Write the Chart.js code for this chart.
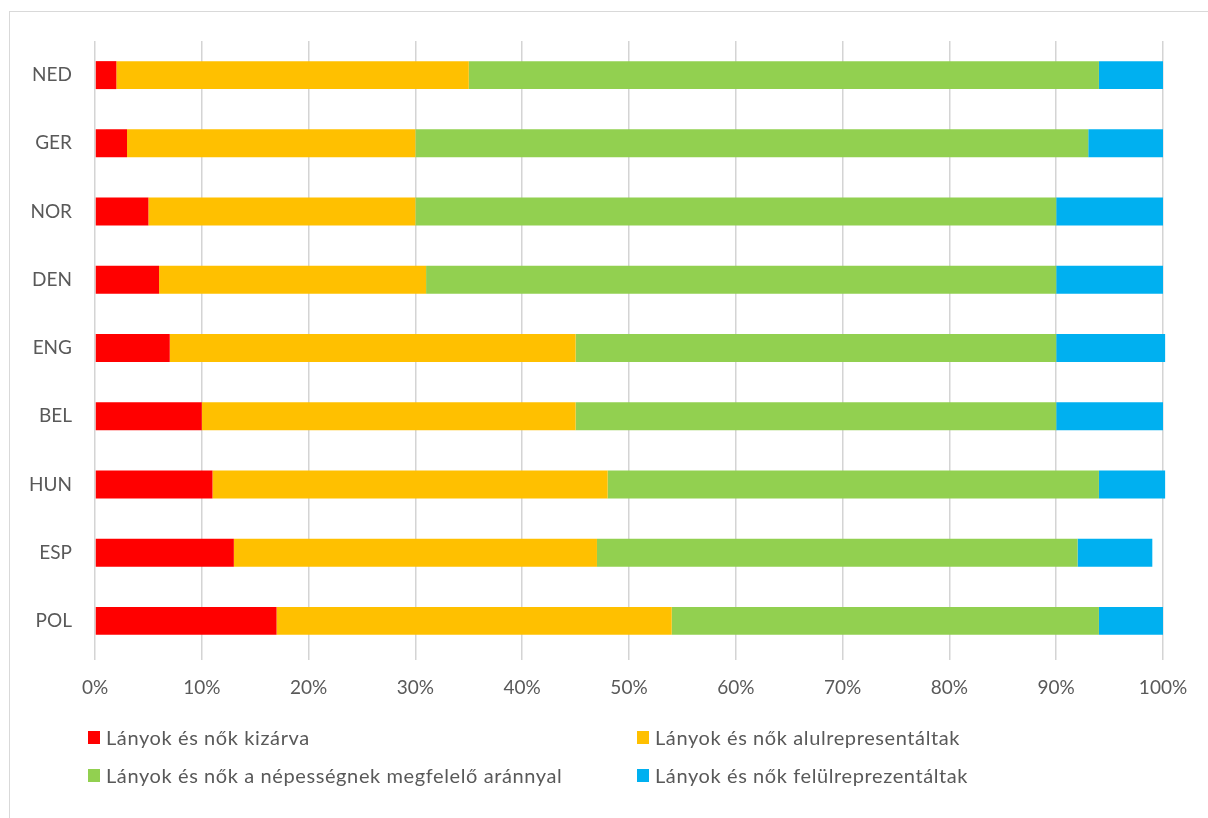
<!DOCTYPE html>
<html lang="hu">
<head>
<meta charset="utf-8">
<script src="https://cdn.jsdelivr.net/npm/chart.js@4.4.1/dist/chart.umd.min.js"></script>
<style>
  html, body { margin: 0; padding: 0; background: #fff; overflow: hidden; }
  #wrap { position: relative; width: 1208px; height: 818px; }
  #frame { position: absolute; left: 9px; top: 11px; width: 1400px; height: 1000px;
           border: 1px solid #d9d9d9; box-sizing: border-box; }
  #chart { position: absolute; left: 0; top: 0; }
  #legend { position: absolute; left: 88px; top: 726px; display: grid;
            grid-template-columns: 549px auto; row-gap: 16px;
            font-family: Lato, 'Open Sans', sans-serif; font-size: 20px;
            letter-spacing: 0.6px; color: #595959; }
  .item { display: flex; align-items: center; height: 22px; white-space: nowrap; }
  .box { width: 12px; height: 13px; margin-right: 6px; }
</style>
</head>
<body>
<div id="wrap">
  <div id="frame"></div>
  <canvas id="chart" width="1208" height="818"></canvas>
  <div id="legend"></div>
</div>
<script>
// Országok (felülről lefelé)
const categories = ['NED', 'GER', 'NOR', 'DEN', 'ENG', 'BEL', 'HUN', 'ESP', 'POL'];

// Sorozatok, százalékban
const excluded     = [2, 3, 5, 6, 7, 10, 11, 13, 17];
const under        = [33, 27, 25, 25, 38, 35, 37, 34, 37];
const proportional = [59, 63, 60, 59, 45, 45, 46, 45, 40];
const over         = [6, 7, 10, 10, 10.2, 10, 6.2, 7, 6];

const seriesLabels = [
  'Lányok és nők kizárva',
  'Lányok és nők alulrepresentáltak',
  'Lányok és nők a népességnek megfelelő aránnyal',
  'Lányok és nők felülreprezentáltak'
];
const seriesColors = ['#FF0000', '#FFC000', '#92D050', '#00B0F0'];
const seriesData = [excluded, under, proportional, over];

const textColor = '#595959';
const gridColor = '#d4d4d4';
const fontFamily = 'Lato, "Open Sans", sans-serif';

const ctx = document.getElementById('chart').getContext('2d');

const chart = new Chart(ctx, {
  type: 'bar',
  data: {
    labels: categories,
    datasets: seriesData.map((d, i) => ({
      label: seriesLabels[i],
      data: d,
      backgroundColor: seriesColors[i],
      borderWidth: 0,
      barPercentage: 0.41,
      categoryPercentage: 1,
      clip: false
    }))
  },
  options: {
    indexAxis: 'y',
    responsive: false,
    animation: false,
    layout: {
      padding: { left: 0, right: 45, top: 41, bottom: 113 }
    },
    plugins: {
      legend: { display: false },
      tooltip: { enabled: false }
    },
    scales: {
      x: {
        stacked: true,
        min: 0,
        max: 100,
        border: { display: false },
        grid: {
          color: gridColor,
          lineWidth: 1.5,
          drawTicks: true,
          tickLength: 5,
          tickColor: gridColor
        },
        ticks: {
          stepSize: 10,
          padding: 16,
          color: textColor,
          font: { family: fontFamily, size: 19 },
          callback: v => v + '%'
        },
        afterFit: s => { s.height = 50; }
      },
      y: {
        stacked: true,
        border: { display: false },
        grid: { display: false, drawTicks: false },
        ticks: {
          padding: 23,
          color: textColor,
          font: { family: fontFamily, size: 19 }
        },
        afterFit: s => { s.width = 95; }
      }
    }
  }
});

// Jelmagyarázat két oszlopban, az adatsorokból építve
const legend = document.getElementById('legend');
chart.data.datasets.forEach(ds => {
  const item = document.createElement('div');
  item.className = 'item';
  const box = document.createElement('span');
  box.className = 'box';
  box.style.background = ds.backgroundColor;
  const txt = document.createElement('span');
  txt.textContent = ds.label;
  item.appendChild(box);
  item.appendChild(txt);
  legend.appendChild(item);
});
</script>
</body>
</html>
